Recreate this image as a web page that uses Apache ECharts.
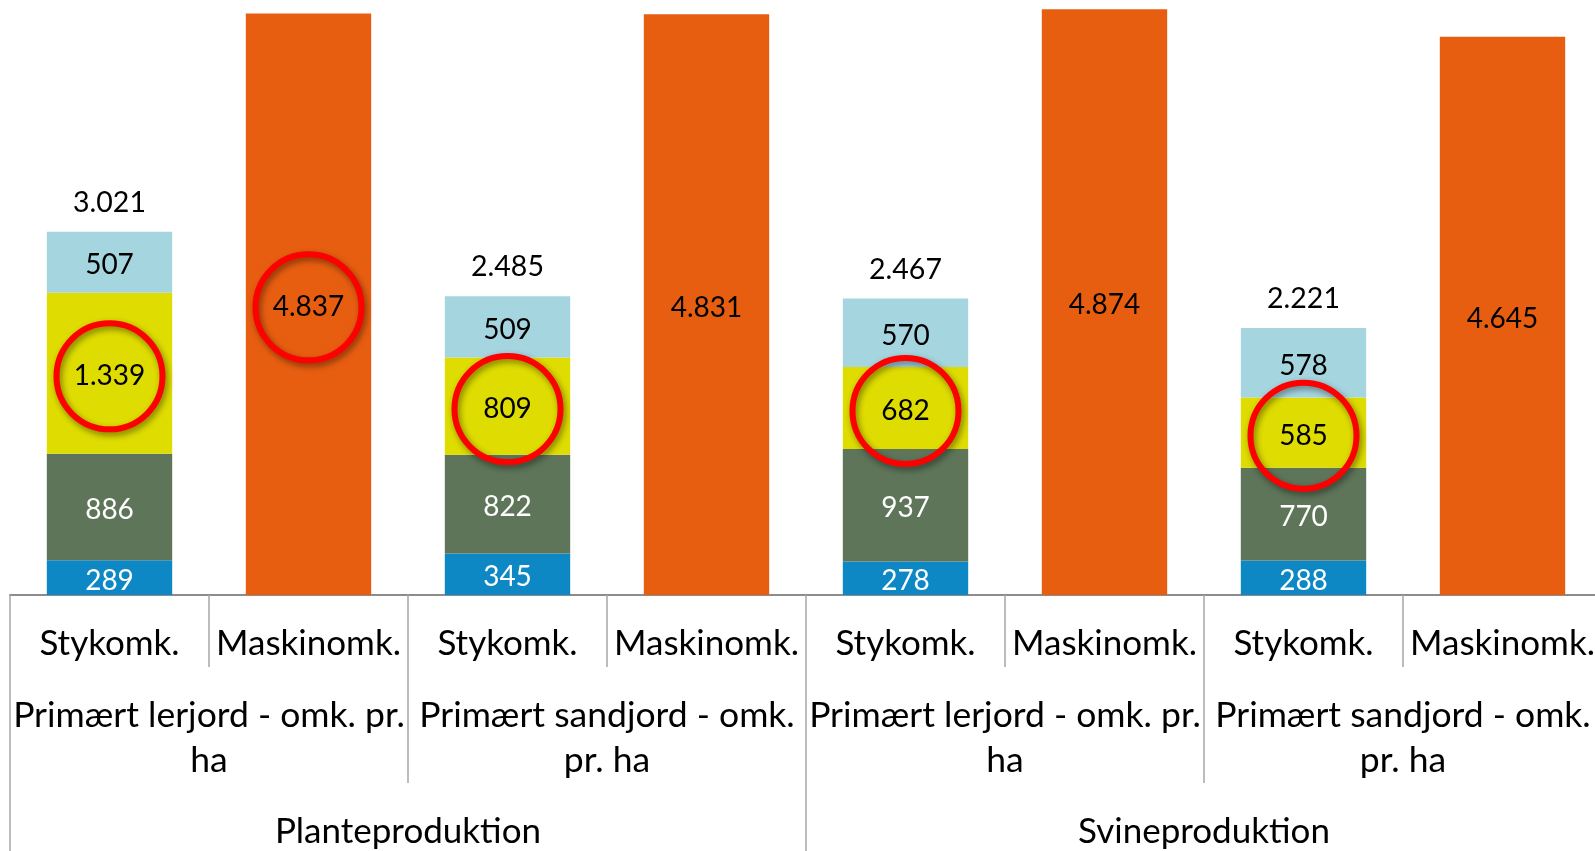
<!DOCTYPE html>
<html>
<head>
<meta charset="utf-8">
<script src="https://cdn.jsdelivr.net/npm/echarts@6/dist/echarts.min.js"></script>
<style>
html,body{margin:0;padding:0;background:#ffffff;}
#chart{width:1595px;height:851px;}
</style>
</head>
<body>
<div id="chart"></div>
<script>
// ---- data ----
const categories = ['Stykomk.', 'Maskinomk.', 'Stykomk.', 'Maskinomk.', 'Stykomk.', 'Maskinomk.', 'Stykomk.', 'Maskinomk.'];
const soilGroups = ['Primært lerjord - omk. pr.\nha', 'Primært sandjord - omk.\npr. ha', 'Primært lerjord - omk. pr.\nha', 'Primært sandjord - omk.\npr. ha'];
const productionGroups = ['Planteproduktion', 'Svineproduktion'];

const seriesBlue      = [289, '-', 345, '-', 278, '-', 288, '-'];
const seriesDarkGreen = [886, '-', 822, '-', 937, '-', 770, '-'];
const seriesYellow    = [1339, '-', 809, '-', 682, '-', 585, '-'];
const seriesLightBlue = [507, '-', 509, '-', 570, '-', 578, '-'];
const seriesOrange    = ['-', 4837, '-', 4831, '-', 4874, '-', 4645];

const circledYellow = [0, 2, 4, 6];
const circledOrange = [1];

// ---- helpers ----
const FONT = 'Lato, "Open Sans", sans-serif';
function fmt(v) {
  return String(v).replace(/\B(?=(\d{3})+(?!\d))/g, '.');
}
const totals = categories.map((c, i) =>
  typeof seriesBlue[i] === 'number'
    ? seriesBlue[i] + seriesDarkGreen[i] + seriesYellow[i] + seriesLightBlue[i]
    : '-'
);

const circleLabel = {
  show: true,
  width: 106,
  height: 106,
  lineHeight: 106,
  borderRadius: 54,
  borderColor: '#ff0000',
  borderWidth: 6,
  shadowColor: 'rgba(0,0,0,0.45)',
  shadowBlur: 6,
  shadowOffsetX: 2,
  shadowOffsetY: 3,
  align: 'center',
  verticalAlign: 'middle'
};

function withCircles(arr, circled) {
  return arr.map((v, i) => circled.indexOf(i) >= 0 ? { value: v, label: circleLabel } : v);
}

function barSeries(name, data, color, textColor) {
  return {
    name: name,
    type: 'bar',
    stack: 'total',
    barCategoryGap: '37%',
    data: data,
    itemStyle: { color: color },
    label: {
      show: true,
      position: 'inside',
      offset: [0, 3],
      formatter: p => fmt(p.value),
      color: textColor,
      fontFamily: FONT,
      fontSize: 28,
      lineHeight: 28
    },
    emphasis: { disabled: true }
  };
}

const tickColor = '#a6a6a6';

const option = {
  animation: false,
  backgroundColor: '#ffffff',
  grid: { left: 10, top: 0, width: 1592, height: 595, containLabel: false, outerBoundsMode: 'none' },
  xAxis: [
    {
      type: 'category',
      data: categories,
      position: 'bottom',
      axisLine: { show: true, lineStyle: { color: '#8c8c8c', width: 2 } },
      axisTick: { show: true, interval: 0, length: 72, lineStyle: { color: tickColor, width: 1.5 } },
      axisLabel: { interval: 0, margin: 28, fontSize: 35, lineHeight: 42, color: '#000', fontFamily: FONT }
    },
    {
      type: 'category',
      data: soilGroups,
      position: 'bottom',
      axisLine: { show: false },
      axisTick: { show: true, interval: 0, length: 188, lineStyle: { color: tickColor, width: 1.5 } },
      axisLabel: { interval: 0, margin: 98, fontSize: 35.5, lineHeight: 45, color: '#000', fontFamily: FONT }
    },
    {
      type: 'category',
      data: productionGroups,
      position: 'bottom',
      axisLine: { show: false },
      axisTick: { show: true, interval: 0, length: 260, lineStyle: { color: tickColor, width: 1.5 } },
      axisLabel: { interval: 0, margin: 216, fontSize: 35, lineHeight: 42, color: '#000', fontFamily: FONT }
    }
  ],
  yAxis: { type: 'value', min: 0, max: 4950, show: false, splitLine: { show: false } },
  series: [
    barSeries('Serie 1', seriesBlue, '#0e88c4', '#ffffff'),
    barSeries('Serie 2', seriesDarkGreen, '#5e7559', '#ffffff'),
    barSeries('Serie 3', withCircles(seriesYellow, circledYellow), '#dedc00', '#000000'),
    barSeries('Serie 4', seriesLightBlue, '#a5d5df', '#000000'),
    barSeries('Serie 5', withCircles(seriesOrange, circledOrange), '#e85e10', '#000000'),
    {
      name: 'Total',
      type: 'bar',
      stack: 'total',
      data: totals.map(t => t === '-' ? '-' : 0),
      itemStyle: { color: 'transparent' },
      label: {
        show: true,
        position: 'top',
        distance: 15,
        formatter: p => fmt(totals[p.dataIndex]),
        color: '#000',
        fontFamily: FONT,
        fontSize: 28.5,
        lineHeight: 28
      },
      emphasis: { disabled: true }
    }
  ]
};

const chart = echarts.init(document.getElementById('chart'), null, { renderer: 'canvas' });
chart.setOption(option);
</script>
</body>
</html>
